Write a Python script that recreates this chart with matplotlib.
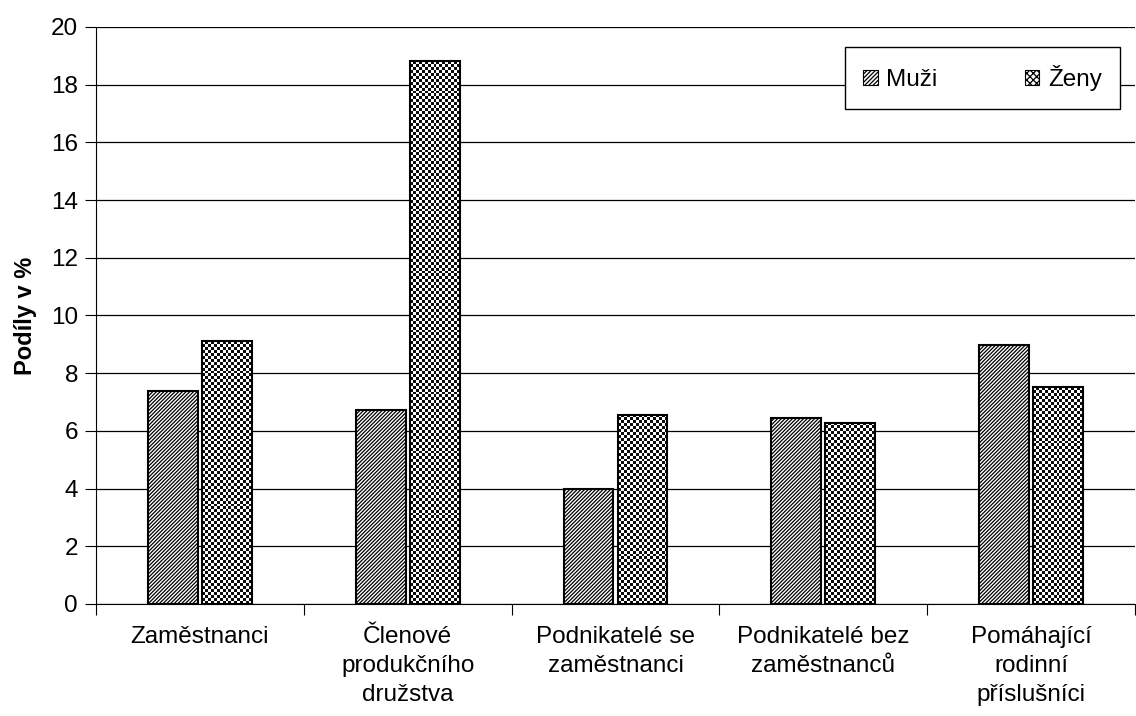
import matplotlib
matplotlib.use('Agg')
import matplotlib.pyplot as plt
import numpy as np
from matplotlib.patches import Patch

plt.rcParams['font.family'] = ['Liberation Sans', 'DejaVu Sans']
plt.rcParams['hatch.linewidth'] = 0.9
plt.rcParams['hatch.color'] = '#555555'

# data
kategorie = ['Zaměstnanci', 'Členové\nprodukčního\ndružstva', 'Podnikatelé se\nzaměstnanci',
             'Podnikatelé bez\nzaměstnanců', 'Pomáhající\nrodinní\npříslušníci']
muzi = [7.38, 6.74, 3.99, 6.45, 8.99]
zeny = [9.11, 18.82, 6.56, 6.28, 7.51]

fig = plt.figure(figsize=(11.36, 7.16), dpi=100)
ax = fig.add_axes([96/1136, 112/716, 1039/1136, 577/716])

x = np.arange(len(kategorie))
w = 0.24
b1 = ax.bar(x - 0.13, muzi, w, facecolor='white', edgecolor='black', hatch='/' * 9,
            linewidth=1.5, zorder=3)
b2 = ax.bar(x + 0.13, zeny, w, facecolor='none', edgecolor='black', linewidth=1.5, zorder=3)

# šachovnice pro Ženy
for r in b2:
    x0, y0 = r.get_x(), r.get_y()
    bw, bh = r.get_width(), r.get_height()
    nx = 17
    ny = int(round(bh * 28.85 / 2.95))
    board = (np.add.outer(np.arange(ny), np.arange(nx)) % 2)
    im = ax.imshow(board, cmap='gray_r', vmin=0, vmax=1.05, extent=(x0, x0 + bw, y0, y0 + bh),
                   interpolation='nearest', aspect='auto', zorder=2.9)
    im.set_clip_path(r)

ax.set_xlim(-0.5, 4.5)
ax.set_ylim(0, 20)
ax.set_yticks(range(0, 21, 2))
ax.set_xticks(np.arange(-0.5, 5, 1))
ax.set_xticklabels([])
ax.set_xticks(x, minor=True)
ax.set_xticklabels(kategorie, minor=True, fontsize=17.5, linespacing=1.4)
ax.tick_params(axis='x', which='minor', length=0, pad=16)
ax.tick_params(axis='x', which='major', length=8, direction='out', color='black')
ax.tick_params(axis='y', length=8, direction='out', labelsize=17.5, pad=5)
ax.grid(axis='y', color='black', linewidth=0.9, zorder=0)
ax.set_axisbelow(True)
ax.spines['top'].set_visible(False)
ax.spines['right'].set_visible(False)
ax.set_ylabel('Podíly v %', fontsize=17, fontweight='bold', labelpad=10)

h1 = Patch(facecolor='white', edgecolor='black', hatch='/' * 8, linewidth=0.8)
h2 = Patch(facecolor='white', edgecolor='black', hatch='xxxxx', linewidth=0.8)
leg = ax.legend([h1, h2], ['Muži', 'Ženy'], loc='upper right', bbox_to_anchor=(0.9856, 0.966),
                ncol=2, fontsize=17.5, frameon=True, fancybox=False, handlelength=0.6,
                handleheight=0.6, handletextpad=0.35, columnspacing=3.6, borderpad=0.75,
                borderaxespad=0.0)
leg.get_frame().set_edgecolor('black')
leg.get_frame().set_linewidth(1.0)
leg.get_frame().set_alpha(1)
leg.set_zorder(5)

fig.savefig('out.png', dpi=100)
